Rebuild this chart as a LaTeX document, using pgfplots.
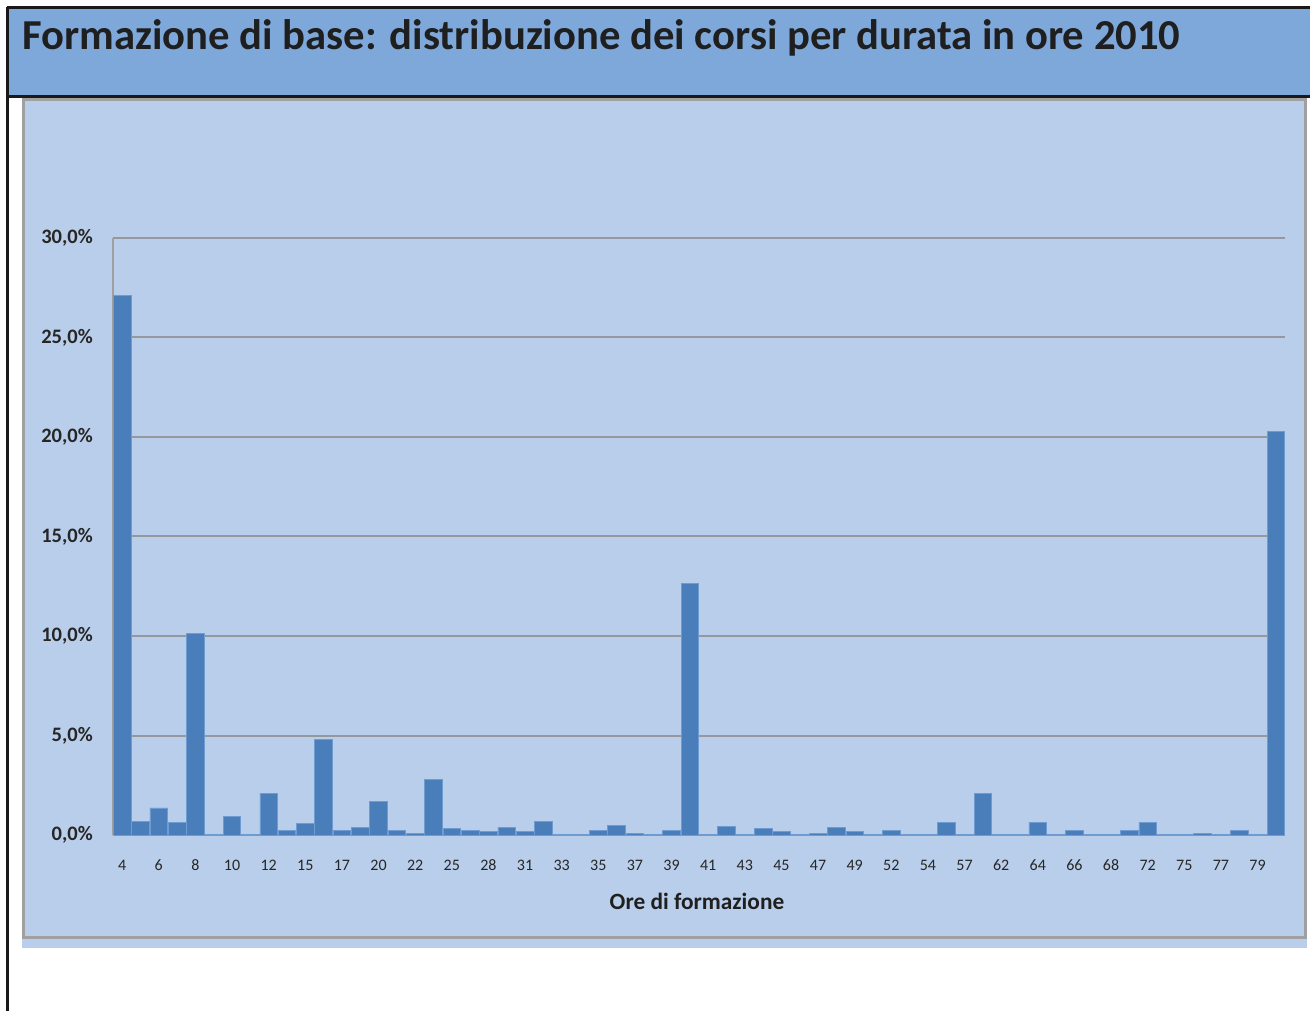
\documentclass[border=0pt]{standalone}
\usepackage{fontspec}
\setmainfont{Carlito}
\usepackage{pgfplots}
\pgfplotsset{compat=1.18}
\definecolor{titleband}{RGB}{126,168,218}
\definecolor{chartbg}{RGB}{185,206,234}
\definecolor{barblue}{RGB}{74,126,187}
\definecolor{baredge}{RGB}{110,155,208}
\definecolor{framegray}{RGB}{160,160,160}
\definecolor{gridgray}{RGB}{150,152,158}
\begin{document}
\begin{tikzpicture}[x=0.75pt,y=0.75pt]
\path[use as bounding box] (0,0) rectangle (1310,1011);
\fill[white] (0,0) rectangle (1310,1011);
\fill[titleband] (8,1003) rectangle (1310,914);
\fill[chartbg] (22,913) rectangle (1307,63);
\draw[framegray, line width=2.25pt] (23.5,911.5) rectangle (1305,73.5);
\draw[black!90, line width=1.9pt] (7,1003.5) -- (1310,1003.5);
\draw[black!90, line width=1.9pt] (7.5,1004) -- (7.5,0);
\draw[black!90, line width=1.9pt] (7,914.5) -- (1310,914.5);
\node[anchor=base west, inner sep=0pt, font=\fontsize{32}{38}\selectfont\bfseries, text=black!88] at (22,961) {Formazione di base: distribuzione dei corsi per durata in ore 2010};
\begin{axis}[
  at={(84.75pt,132pt)}, anchor=south west,
  scale only axis, width=879pt, height=447.75pt,
  xmin=-0.5, xmax=63.5, ymin=0, ymax=30,
  ybar, bar width=13.2pt,
  axis x line*=bottom, axis y line*=left,
  axis line style={-, draw=framegray, line width=1.5pt},
  ymajorgrids, grid style={draw=gridgray, line width=1.5pt},
  ytick={0,5,10,15,20,25,30},
  yticklabel={\pgfmathprintnumber[fixed,fixed zerofill,precision=1,use comma]{\tick}\%},
  /pgf/number format/assume math mode=true,
  major tick length=0pt,
  yticklabel style={font=\fontsize{15.4}{18}\selectfont\bfseries, text=black!85, anchor=east, inner sep=0pt, xshift=-15pt},
  xtick={0,2,...,62},
  xticklabels={4,6,8,10,12,15,17,20,22,25,28,31,33,35,37,39,41,43,45,47,49,52,54,57,62,64,66,68,72,75,77,79},
  xticklabel style={font=\fontsize{12}{14}\selectfont, text=black!85, anchor=base, inner sep=0pt, yshift=-26.25pt},
]
\addplot[fill=barblue, draw=baredge, line width=0.5pt] coordinates {
(0,27.1) (1,0.70) (2,1.36) (3,0.65) (4,10.15) (5,0.05) (6,0.92) (7,0.05)
(8,2.10) (9,0.23) (10,0.57) (11,4.80) (12,0.23) (13,0.39) (14,1.69) (15,0.23)
(16,0.10) (17,2.81) (18,0.32) (19,0.23) (20,0.18) (21,0.39) (22,0.18) (23,0.70)
(24,0.05) (25,0.05) (26,0.23) (27,0.50) (28,0.10) (29,0.05) (30,0.23) (31,12.66)
(32,0.05) (33,0.44) (34,0.05) (35,0.32) (36,0.18) (37,0.05) (38,0.10) (39,0.39)
(40,0.18) (41,0.05) (42,0.23) (43,0.05) (44,0.05) (45,0.65) (46,0.05) (47,2.10)
(48,0.05) (49,0.05) (50,0.65) (51,0.05) (52,0.23) (53,0.05) (54,0.05) (55,0.23)
(56,0.65) (57,0.05) (58,0.05) (59,0.10) (60,0.05) (61,0.23) (62,0.05) (63,20.3)
};
\end{axis}
\node[anchor=base, inner sep=0pt, font=\fontsize{17.5}{20}\selectfont\bfseries, text=black!88] at (697,102) {Ore di formazione};
\end{tikzpicture}
\end{document}
